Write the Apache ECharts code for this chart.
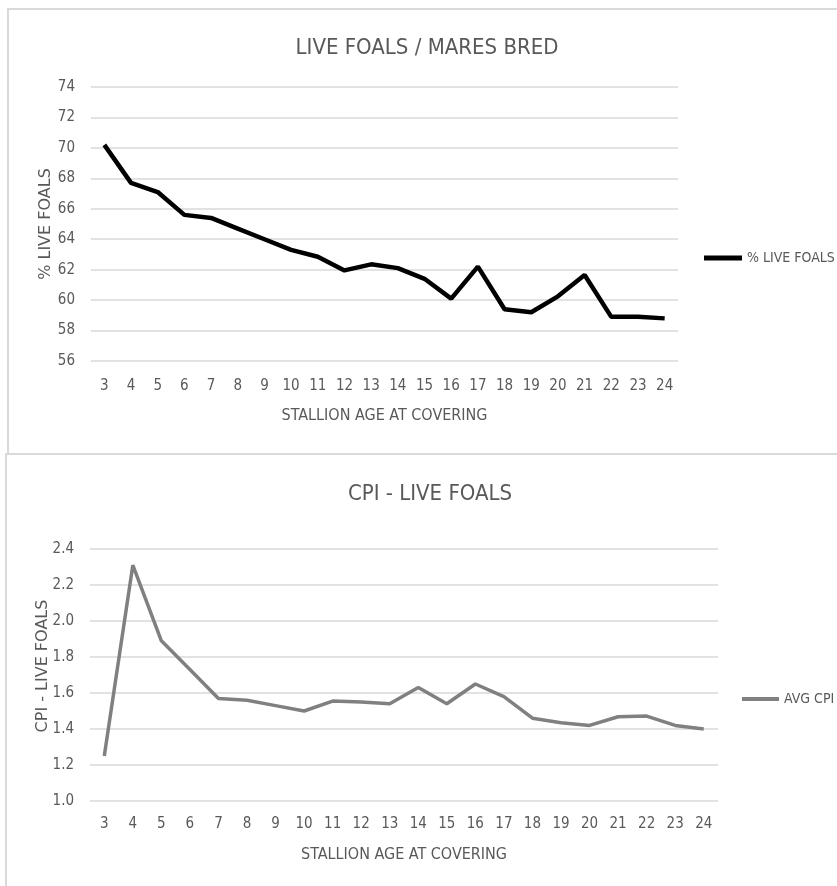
<!DOCTYPE html>
<html>
<head>
<meta charset="utf-8">
<script src="https://cdn.jsdelivr.net/npm/echarts@6/dist/echarts.min.js"></script>
<style>
  html, body { margin: 0; padding: 0; background: #fff; }
  #chart { width: 837px; height: 886px; }
</style>
</head>
<body>
<div id="chart"></div>
<script>
// Stallion age at covering (years)
const ages = ['3', '4', '5', '6', '7', '8', '9', '10', '11', '12', '13', '14',
              '15', '16', '17', '18', '19', '20', '21', '22', '23', '24'];

// Live foals as a percentage of mares bred
const liveFoalsPct = [70.2, 67.7, 67.1, 65.6, 65.4, 64.7, 64.0, 63.3, 62.85, 61.95, 62.35,
                      62.1, 61.4, 60.1, 62.2, 59.4, 59.2, 60.25, 61.65, 58.9, 58.9, 58.8];

// Average CPI for live foals
const avgCpi = [1.25, 2.31, 1.89, 1.73, 1.57, 1.56, 1.53, 1.50, 1.555, 1.55, 1.54,
                1.63, 1.54, 1.65, 1.58, 1.46, 1.435, 1.42, 1.468, 1.472, 1.42, 1.40];

const pctTicks = { min: 56, max: 74, step: 2 };
const cpiTicks = { min: 1.0, max: 2.4, step: 0.2 };

const narrow = "'Liberation Sans Narrow', 'DejaVu Sans Condensed', sans-serif";
const wide = "'DejaVu Sans', 'Liberation Sans', sans-serif";
const textGrey = '#595959';
const gridGrey = '#d9d9d9';

const chart = echarts.init(document.getElementById('chart'), null, { renderer: 'canvas' });

function xAxisFor(gridIndex, margin, nameGap) {
  return {
    type: 'category',
    gridIndex: gridIndex,
    data: ages,
    boundaryGap: true,
    axisLine: { show: false },
    axisTick: { show: false },
    axisLabel: { color: textGrey, fontFamily: narrow, fontSize: 15, margin: margin, interval: 0 },
    name: 'STALLION AGE AT COVERING',
    nameLocation: 'middle',
    nameGap: nameGap,
    nameMoveOverlap: false,
    nameTextStyle: { color: textGrey, fontFamily: narrow, fontSize: 16 }
  };
}

function yAxisFor(gridIndex, ticks, name, nameGap, namePad, fmt) {
  return {
    type: 'value',
    gridIndex: gridIndex,
    min: ticks.min,
    max: ticks.max,
    interval: ticks.step,
    axisLine: { show: false },
    axisTick: { show: false },
    splitLine: { lineStyle: { color: gridGrey, width: 1.5 } },
    axisLabel: { color: textGrey, fontFamily: narrow, fontSize: 15, margin: 16, formatter: fmt },
    name: name,
    nameLocation: 'middle',
    nameGap: nameGap,
    nameMoveOverlap: false,
    nameTextStyle: { color: textGrey, fontFamily: wide, fontSize: 16, padding: namePad }
  };
}

chart.setOption({
  animation: false,
  backgroundColor: '#ffffff',
  title: [
    {
      text: 'LIVE FOALS / MARES BRED',
      left: 422, top: 32, textAlign: 'center',
      textStyle: { color: textGrey, fontFamily: narrow, fontSize: 22, fontWeight: 'normal' }
    },
    {
      text: 'CPI - LIVE FOALS',
      left: 425, top: 478, textAlign: 'center',
      textStyle: { color: textGrey, fontFamily: narrow, fontSize: 22, fontWeight: 'normal' }
    }
  ],
  legend: [
    {
      data: ['% LIVE FOALS'],
      left: 704, top: 251,
      itemWidth: 38, itemHeight: 16,
      icon: 'path://M0,0 L38,0 L38,5 L0,5 Z',
      textStyle: { color: textGrey, fontFamily: narrow, fontSize: 14 },
      padding: 0
    },
    {
      data: ['AVG CPI'],
      left: 742, top: 692,
      itemWidth: 37, itemHeight: 16,
      icon: 'path://M0,0 L37,0 L37,4 L0,4 Z',
      textStyle: { color: textGrey, fontFamily: narrow, fontSize: 14 },
      padding: 0
    }
  ],
  grid: [
    { left: 91, right: 159, top: 87, height: 274 },
    { left: 90, right: 119, top: 549, height: 252 }
  ],
  xAxis: [
    xAxisFor(0, 18, 47),
    xAxisFor(1, 16, 46)
  ],
  yAxis: [
    yAxisFor(0, pctTicks, '% LIVE FOALS', 37, [0, 0, 0, 0], v => String(v)),
    yAxisFor(1, cpiTicks, 'CPI - LIVE FOALS', 39, [0, 0, 0, 18], v => v.toFixed(1))
  ],
  series: [
    {
      name: '% LIVE FOALS',
      type: 'line',
      xAxisIndex: 0, yAxisIndex: 0,
      data: liveFoalsPct,
      symbol: 'none',
      color: '#000000',
      lineStyle: { color: '#000000', width: 4.5 }
    },
    {
      name: 'AVG CPI',
      type: 'line',
      xAxisIndex: 1, yAxisIndex: 1,
      data: avgCpi,
      symbol: 'none',
      color: '#808080',
      lineStyle: { color: '#808080', width: 3.5 }
    }
  ],
  graphic: [
    {
      type: 'rect',
      shape: { x: 8, y: 9, width: 900, height: 445 },
      style: { fill: 'none', stroke: gridGrey, lineWidth: 2 },
      z: -1
    },
    {
      type: 'rect',
      shape: { x: 6, y: 454, width: 900, height: 500 },
      style: { fill: 'none', stroke: gridGrey, lineWidth: 2 },
      z: -1
    }
  ]
});
</script>
</body>
</html>
